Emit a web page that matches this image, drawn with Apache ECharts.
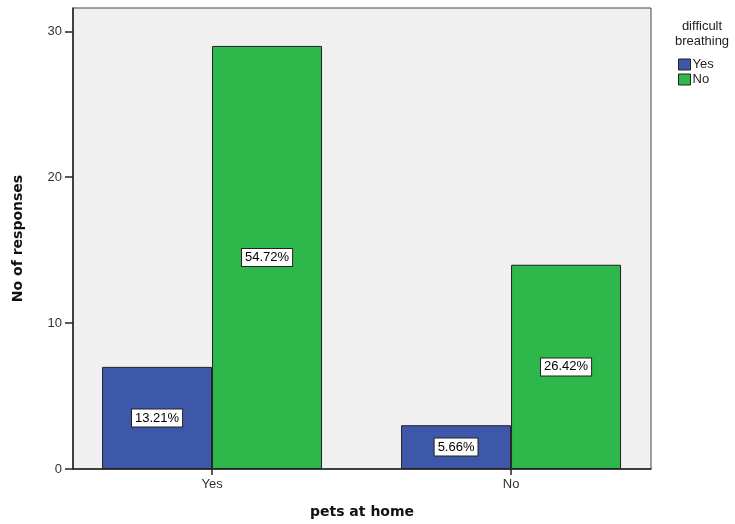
<!DOCTYPE html>
<html><head><meta charset="utf-8">
<script src="https://cdn.jsdelivr.net/npm/echarts@6/dist/echarts.min.js"></script>
<style>html,body{margin:0;padding:0;background:#fff}#c{width:735px;height:524px}</style>
</head><body><div id="c"></div>
<script>
const categories = ["Yes", "No"];
const seriesNames = ["Yes", "No"];
const valuesYes = [7, 3];
const valuesNo = [29, 14];
const percentYes = ["13.21%", "5.66%"];
const percentNo = ["54.72%", "26.42%"];
const yTicks = [0, 10, 20, 30];

const chart = echarts.init(document.getElementById('c'));
const FONT = 'Liberation Sans, Arial, sans-serif';
const labelStyle = {
  show: true, position: 'inside', color: '#000', fontSize: 13,
  fontFamily: FONT,
  backgroundColor: '#fff', borderColor: '#222', borderWidth: 1,
  padding: [3, 3, 1, 3]
};
function mk(vals, pct) {
  return vals.map((v, i) => ({ value: [i, v], pct: pct[i] }));
}
chart.setOption({
  animation: false,
  title: {
    text: 'difficult\nbreathing', left: 697, top: 14, textAlign: 'center',
    textStyle: { fontSize: 13, fontWeight: 'normal', color: '#222', lineHeight: 15, fontFamily: FONT }
  },
  legend: {
    orient: 'vertical', left: 673, top: 53, itemWidth: 12, itemHeight: 11, itemGap: 2,
    icon: 'rect', data: seriesNames,
    itemStyle: { borderColor: '#222', borderWidth: 1 },
    textStyle: { fontSize: 13, color: '#222', padding: [0, 0, 0, -3], fontFamily: FONT }
  },
  grid: { left: 73, top: 8, width: 578, height: 462, show: true, backgroundColor: '#f0f0f0', borderColor: '#444', borderWidth: 1 },
  xAxis: {
    type: 'value', min: -0.465, max: 1.468,
    name: 'pets at home', nameLocation: 'middle', nameGap: 36,
    nameTextStyle: { fontSize: 14, fontWeight: 'bold', color: '#111', fontFamily: 'DejaVu Sans, sans-serif' },
    axisLine: { show: true, onZero: false, lineStyle: { color: '#222', width: 1.5 } },
    axisTick: { show: true, length: 6, customValues: [0, 1], lineStyle: { color: '#222', width: 1.5 } },
    axisLabel: { customValues: [0, 1], formatter: v => categories[Math.round(v)], fontSize: 13, color: '#333', margin: 9, fontFamily: FONT },
    splitLine: { show: false }
  },
  yAxis: {
    type: 'value', min: 0, max: 31.6, interval: 10,
    name: 'No of responses', nameLocation: 'middle', nameGap: 48, nameRotate: 90,
    nameTextStyle: { fontSize: 14, fontWeight: 'bold', color: '#111', fontFamily: 'DejaVu Sans, sans-serif' },
    axisLine: { show: true, onZero: false, lineStyle: { color: '#222', width: 1.5 } },
    axisTick: { show: true, length: 8, lineStyle: { color: '#222', width: 1.5 } },
    axisLabel: { showMaxLabel: false, fontSize: 13, color: '#333', margin: 11, fontFamily: FONT },
    splitLine: { show: false }
  },
  series: [
    { name: seriesNames[0], type: 'bar', barWidth: 110, barGap: '0%', data: mk(valuesYes, percentYes),
      itemStyle: { color: '#3d57a9', borderColor: '#222', borderWidth: 1 },
      label: Object.assign({}, labelStyle, { formatter: p => p.data.pct }) },
    { name: seriesNames[1], type: 'bar', barWidth: 110, barGap: '0%', data: mk(valuesNo, percentNo),
      itemStyle: { color: '#2eb84b', borderColor: '#222', borderWidth: 1 },
      label: Object.assign({}, labelStyle, { formatter: p => p.data.pct }) }
  ]
});
</script></body></html>
